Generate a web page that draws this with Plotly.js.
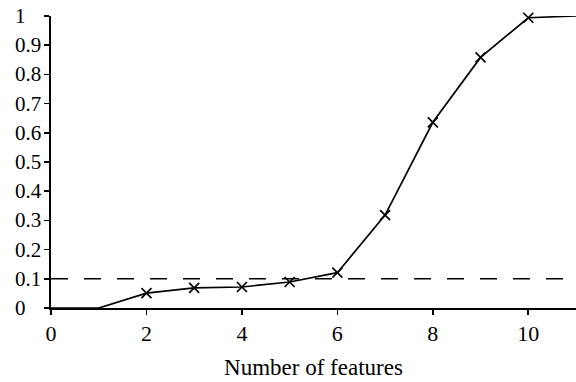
<!DOCTYPE html>
<html>
<head>
<meta charset="utf-8">
<script src="https://cdn.plot.ly/plotly-3.0.1.min.js"></script>
<style>html,body{margin:0;padding:0;background:#fff;}#chart{width:576px;height:382px;}</style>
</head>
<body>
<div id="chart"></div>
<script>
var features = [0, 1, 2, 3, 4, 5, 6, 7, 8, 9, 10, 11];
var values = [0, 0, 0.051, 0.069, 0.072, 0.089, 0.121, 0.318, 0.636, 0.858, 0.994, 1.0];
var markerFeatures = [2, 3, 4, 5, 6, 7, 8, 9, 10];
var markerValues = [0.051, 0.069, 0.072, 0.089, 0.121, 0.318, 0.636, 0.858, 0.994];
var thresholdX = [0, 11];
var thresholdY = [0.1, 0.1];
var xTicks = [0, 2, 4, 6, 8, 10];
var yTicks = [0, 0.1, 0.2, 0.3, 0.4, 0.5, 0.6, 0.7, 0.8, 0.9, 1];
var yTickLabels = ['0', '0.1', '0.2', '0.3', '0.4', '0.5', '0.6', '0.7', '0.8', '0.9', '1'];
var xTitle = 'Number of features';

var font = '"Liberation Serif", "Times New Roman", "DejaVu Serif", serif';

var traces = [
  {x: thresholdX, y: thresholdY, mode: 'lines', line: {color: '#000', width: 1.6, dash: '17px,16px'}, hoverinfo: 'skip'},
  {x: features, y: values, mode: 'lines', line: {color: '#000', width: 1.7}, hoverinfo: 'skip'},
  {x: markerFeatures, y: markerValues, mode: 'markers', cliponaxis: false,
   marker: {symbol: 'x-thin-open', size: 10, color: '#000', line: {color: '#000', width: 1.7}}, hoverinfo: 'skip'}
];

var annotations = yTicks.map(function (v, i) {
  return {xref: 'paper', yref: 'y', x: 0, y: v, xshift: -38, xanchor: 'left', yanchor: 'middle',
          text: yTickLabels[i], showarrow: false, font: {family: font, size: 21, color: '#000'}};
});

var layout = {
  width: 576, height: 382,
  margin: {l: 51, r: 0, t: 16, b: 74, pad: 0},
  paper_bgcolor: '#fff', plot_bgcolor: '#fff',
  showlegend: false,
  font: {family: font, color: '#000'},
  xaxis: {
    range: [0, 11], tickvals: xTicks, ticktext: xTicks.map(String),
    showgrid: false, zeroline: false, showline: true, linecolor: '#000', linewidth: 1.7,
    ticks: 'outside', ticklen: 5, tickwidth: 1.7, tickcolor: '#000',
    tickfont: {family: font, size: 22, color: '#000'}, ticklabelstandoff: 0,
    title: {text: xTitle, font: {family: font, size: 23, color: '#000'}, standoff: 14}
  },
  yaxis: {
    range: [0, 1], tickvals: yTicks, showticklabels: false,
    showgrid: false, zeroline: false, showline: true, linecolor: '#000', linewidth: 1.7,
    ticks: 'outside', ticklen: 5, tickwidth: 1.7, tickcolor: '#000'
  },
  annotations: annotations
};

Plotly.newPlot('chart', traces, layout, {displayModeBar: false, staticPlot: true});
</script>
</body>
</html>
